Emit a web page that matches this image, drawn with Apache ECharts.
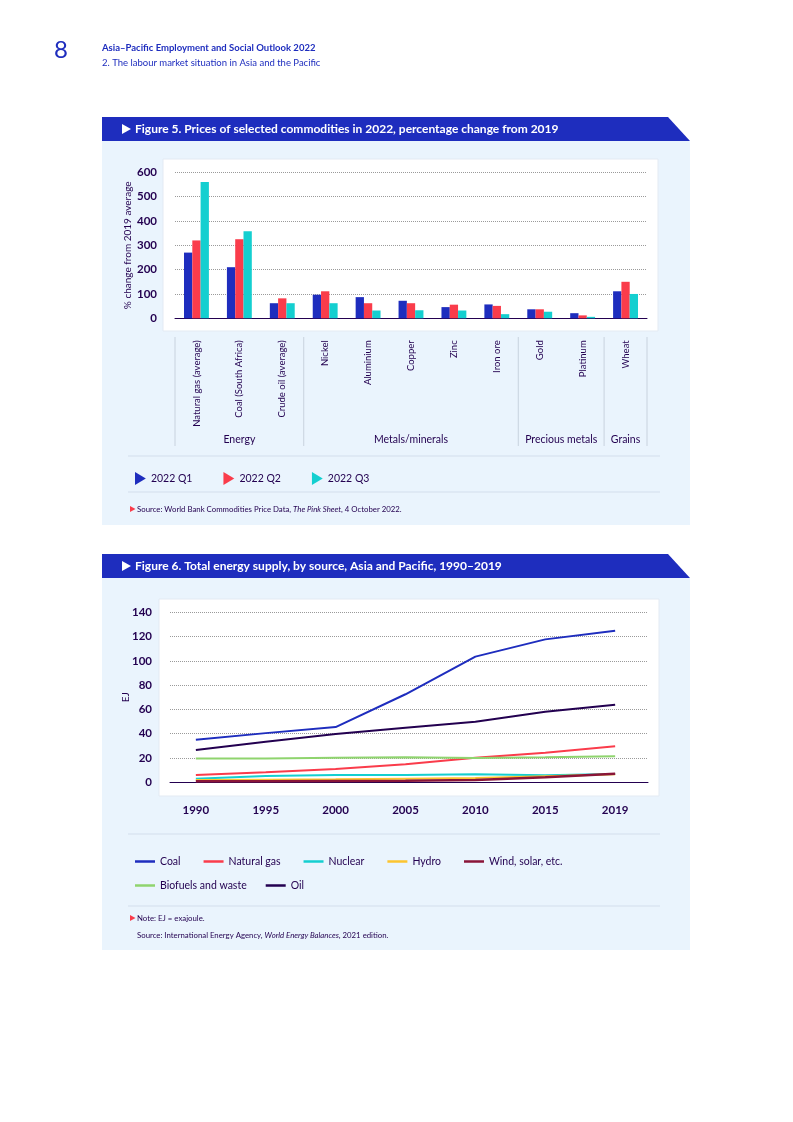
<!DOCTYPE html>
<html>
<head>
<meta charset="utf-8">
<script src="https://cdn.jsdelivr.net/npm/echarts@6/dist/echarts.min.js"></script>
<style>
html,body{margin:0;padding:0;background:#ffffff;}
#c{width:793px;height:1122px;}
</style>
</head>
<body>
<div id="c"></div>
<script>
// ---------- Figure 5 data ----------
const commodities = ['Natural gas (average)','Coal (South Africa)','Crude oil (average)','Nickel','Aluminium','Copper','Zinc','Iron ore','Gold','Platinum','Wheat'];
const q1Values = [270, 210, 62, 97, 87, 72, 46, 57, 37, 21, 111];
const q2Values = [320, 325, 82, 111, 62, 62, 56, 51, 37, 12, 150];
const q3Values = [560, 358, 62, 62, 32, 33, 32, 17, 27, 6, 100];
const quarterNames = ['2022 Q1','2022 Q2','2022 Q3'];
const groupNames = ['Energy','Metals/minerals','Precious metals','Grains'];
const groupSizes = [3, 5, 2, 1];

// ---------- Figure 6 data ----------
const yearLabels = ['1990','1995','2000','2005','2010','2015','2019'];
const coalEJ     = [35, 40.5, 45.5, 72.5, 103.5, 117.7, 124.8];
const gasEJ      = [6, 8.2, 11, 14.8, 20.3, 24.4, 29.6];
const nuclearEJ  = [3, 5.2, 6, 6, 6.6, 5.8, 6.8];
const hydroEJ    = [1.9, 2.2, 2.5, 3, 3.5, 5, 6.6];
const windEJ     = [0.8, 0.9, 1, 1.2, 1.9, 4.1, 7.1];
const biofuelEJ  = [19.5, 19.6, 20.3, 20.6, 20, 20.6, 21.5];
const oilEJ      = [26.6, 33.4, 39.8, 45, 49.9, 58.1, 63.9];
const sourceNames = ['Coal','Natural gas','Nuclear','Hydro','Wind, solar, etc.','Biofuels and waste','Oil'];

// ---------- styles ----------
const BLUE = '#1e2dbe', RED = '#fa3c4b', TURQ = '#14cfd0', DARK = '#230050';
const YELLOW = '#fcc52f', MAROON = '#8a1538', GREEN = '#8fd46e';
const PANEL = '#eaf4fd';
const FONT = 'Lato, "Noto Sans", sans-serif';

const chart = echarts.init(document.getElementById('c'));

const idx = yearLabels.map((_, i) => i);
const pairs = arr => arr.map((v, i) => [i, v]);
const lineColors = [BLUE, RED, TURQ, YELLOW, MAROON, GREEN, DARK];
const lineData = [coalEJ, gasEJ, nuclearEJ, hydroEJ, windEJ, biofuelEJ, oilEJ];

chart.setOption({
  animation: false,
  textStyle: {fontFamily: FONT},
  grid: [
    {left: 175, top: 172.3, width: 472, height: 146},
    {left: 170, top: 612.3, width: 478, height: 170}
  ],
  xAxis: [
    {
      type: 'category', gridIndex: 0, data: commodities,
      axisLine: {lineStyle: {color: DARK, width: 1}},
      axisTick: {show: false},
      axisLabel: {rotate: 90, margin: 22, interval: 0, fontSize: 9.5, fontFamily: FONT, color: DARK}
    },
    {
      type: 'value', gridIndex: 1, min: -0.37, max: 6.47,
      axisLine: {lineStyle: {color: DARK, width: 1}},
      axisTick: {show: false},
      splitLine: {show: false},
      axisLabel: {customValues: idx, formatter: v => yearLabels[Math.round(v)],
        margin: 22, fontSize: 11.5, fontWeight: 'bold', fontFamily: FONT, color: DARK}
    }
  ],
  yAxis: [
    {
      type: 'value', gridIndex: 0, min: 0, max: 600, interval: 100,
      name: '% change from 2019 average', nameLocation: 'middle', nameRotate: 90, nameGap: 42,
      nameMoveOverlap: false,
      nameTextStyle: {fontSize: 10, color: DARK, fontFamily: FONT},
      axisLine: {show: false}, axisTick: {show: false},
      axisLabel: {margin: 18, fontSize: 11.5, fontWeight: 'bold', color: DARK, fontFamily: FONT},
      splitLine: {lineStyle: {type: 'dotted', color: '#9a9a9a', width: 1}}
    },
    {
      type: 'value', gridIndex: 1, min: 0, max: 140, interval: 20,
      name: 'EJ', nameLocation: 'middle', nameRotate: 90, nameGap: 39,
      nameMoveOverlap: false,
      nameTextStyle: {fontSize: 10, color: DARK, fontFamily: FONT},
      axisLine: {show: false}, axisTick: {show: false},
      axisLabel: {margin: 18, fontSize: 11.5, fontWeight: 'bold', color: DARK, fontFamily: FONT},
      splitLine: {lineStyle: {type: 'dotted', color: '#9a9a9a', width: 1}}
    }
  ],
  legend: [
    {
      data: quarterNames, left: 130, top: 467, itemWidth: 11, itemHeight: 13, itemGap: 31,
      icon: 'path://M0,0L10,6L0,12Z', selectedMode: false,
      textStyle: {fontSize: 10.5, color: DARK, fontFamily: FONT}
    },
    {
      data: sourceNames.slice(0, 5), left: 130, top: 851, itemWidth: 20, itemHeight: 2.5, itemGap: 23,
      icon: 'rect', selectedMode: false, textStyle: {fontSize: 10.5, color: DARK, fontFamily: FONT}
    },
    {
      data: sourceNames.slice(5), left: 130, top: 875, itemWidth: 20, itemHeight: 2.5, itemGap: 19,
      icon: 'rect', selectedMode: false, textStyle: {fontSize: 10.5, color: DARK, fontFamily: FONT}
    }
  ],
  series: [
    {name: quarterNames[0], type: 'bar', xAxisIndex: 0, yAxisIndex: 0, data: q1Values, itemStyle: {color: BLUE}, barGap: '0%', barCategoryGap: '42%'},
    {name: quarterNames[1], type: 'bar', xAxisIndex: 0, yAxisIndex: 0, data: q2Values, itemStyle: {color: RED}, barGap: '0%', barCategoryGap: '42%'},
    {name: quarterNames[2], type: 'bar', xAxisIndex: 0, yAxisIndex: 0, data: q3Values, itemStyle: {color: TURQ}, barGap: '0%', barCategoryGap: '42%'}
  ].concat(sourceNames.map((n, k) => ({
    name: n, type: 'line', xAxisIndex: 1, yAxisIndex: 1, data: pairs(lineData[k]),
    symbol: 'none', lineStyle: {width: k === 4 ? 2.5 : 2, color: lineColors[k]}, itemStyle: {color: lineColors[k]}
  })))
});

// ---------- page furniture + group labels ----------
const g = [];
function txt(x, y, text, o) {
  g.push({type: 'text', z: 20, style: Object.assign({x: x, y: y, text: text, fill: DARK, fontSize: 10, fontFamily: FONT, verticalAlign: 'middle', align: 'left'}, o || {})});
}
function rect(x, y, w, h, fill, stroke, z) {
  g.push({type: 'rect', z: z, shape: {x: x, y: y, width: w, height: h}, style: {fill: fill, stroke: stroke || null, lineWidth: 1}});
}
function line(x1, y1, x2, y2, color, z) {
  g.push({type: 'line', z: z || 1, shape: {x1: x1, y1: y1, x2: x2, y2: y2}, style: {stroke: color, lineWidth: 1}});
}
function poly(points, fill, z) {
  g.push({type: 'polygon', z: z || 5, shape: {points: points}, style: {fill: fill}});
}

// header
txt(54, 50, '8', {fontSize: 24, fill: BLUE, fontFamily: FONT});
txt(102, 48, 'Asia–Pacific Employment and Social Outlook 2022', {fontSize: 9.5, fontWeight: 'bold', fill: BLUE});
txt(102, 63, '2. The labour market situation in Asia and the Pacific', {fontSize: 9.5, fill: BLUE});

// figure 5 frame
rect(102, 141, 588, 384, PANEL, null, -20);
poly([[102,117],[668,117],[690,141],[102,141]], BLUE, 5);
poly([[122,124],[131,129],[122,134]], '#ffffff', 6);
txt(135, 129.5, 'Figure 5. Prices of selected commodities in 2022, percentage change from 2019', {fontSize: 12, fontWeight: 'bold', fill: '#ffffff'});
rect(163, 159, 495, 172, '#ffffff', '#e3eaf3', -10);
line(128, 456, 660, 456, '#d3deec');
line(128, 492, 660, 492, '#d3deec');
poly([[130,506],[135.5,509],[130,512]], RED, 6);
txt(137, 509.5, 'Source: World Bank Commodities Price Data, {i|The Pink Sheet}, 4 October 2022.', {
  fontSize: 7.8, rich: {i: {fontStyle: 'italic', fontSize: 7.8, fontFamily: FONT, fill: DARK}}
});

// group separators and labels from the category axis
const centers = commodities.map((c, i) => chart.convertToPixel({xAxisIndex: 0}, i));
const band = centers[1] - centers[0];
let start = 0;
line(centers[0] - band / 2, 337, centers[0] - band / 2, 446, '#c8d2de');
groupNames.forEach((name, k) => {
  const end = start + groupSizes[k] - 1;
  const x0 = centers[start] - band / 2, x1 = centers[end] + band / 2;
  line(x1, 337, x1, 446, '#c8d2de');
  txt((x0 + x1) / 2, 440, name, {align: 'center', fontSize: 10.5});
  start = end + 1;
});

// figure 6 frame
rect(102, 578, 588, 372, PANEL, null, -20);
poly([[102,554],[668,554],[690,578],[102,578]], BLUE, 5);
poly([[122,561],[131,566],[122,571]], '#ffffff', 6);
txt(135, 566.5, 'Figure 6. Total energy supply, by source, Asia and Pacific, 1990–2019', {fontSize: 12, fontWeight: 'bold', fill: '#ffffff'});
rect(159, 599, 500, 197, '#ffffff', '#e3eaf3', -10);
line(128, 834, 660, 834, '#d3deec');
line(128, 906, 660, 906, '#d3deec');
poly([[130,915],[135.5,918],[130,921]], RED, 6);
txt(137, 918.5, 'Note: EJ = exajoule.', {fontSize: 7.8});
txt(137, 935.5, 'Source: International Energy Agency, {i|World Energy Balances}, 2021 edition.', {
  fontSize: 7.8, rich: {i: {fontStyle: 'italic', fontSize: 7.8, fontFamily: FONT, fill: DARK}}
});

chart.setOption({graphic: {elements: g}});
</script>
</body>
</html>
